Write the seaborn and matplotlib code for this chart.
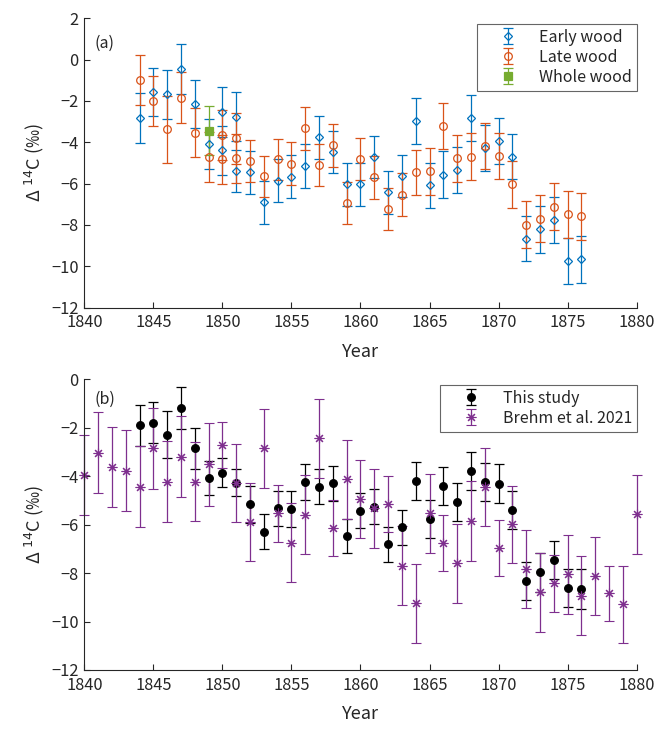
import matplotlib
matplotlib.use("Agg")
import matplotlib.pyplot as plt
import seaborn as sns
import numpy as np
import pandas as pd

# ── Colours (MATLAB default order) ──────────────────────────────────────────
BLUE   = "#0072BD"
ORANGE = "#D95319"
GREEN  = "#77AC30"
PURPLE = "#7E2F8E"
BLACK  = "#000000"

# ── Panel (a): early / late / whole wood ────────────────────────────────────
early_year = [1844, 1845, 1846, 1847, 1848, 1849, 1850, 1850, 1851, 1851,
              1852, 1853, 1854, 1855, 1856, 1857, 1858, 1859, 1860, 1861,
              1862, 1863, 1864, 1865, 1866, 1867, 1868, 1869, 1870, 1871,
              1872, 1873, 1874, 1875, 1876]
early_d14c = [-2.84, -1.57, -1.68, -0.45, -2.15, -4.10, -2.52, -4.38, -2.76, -5.40,
              -5.46, -6.91, -5.85, -5.67, -5.14, -3.76, -4.46, -6.03, -6.03, -4.73,
              -6.43, -5.64, -2.96, -6.09, -5.56, -5.35, -2.81, -4.27, -3.94, -4.70,
              -8.66, -8.22, -7.77, -9.74, -9.67]
early_err  = [1.21, 1.18, 1.20, 1.20, 1.18, 1.21, 1.20, 1.18, 1.20, 1.03,
              1.02, 1.03, 1.03, 1.05, 1.05, 1.03, 1.02, 1.04, 1.03, 1.02,
              1.02, 1.03, 1.12, 1.10, 1.12, 1.10, 1.12, 1.10, 1.12, 1.10,
              1.11, 1.12, 1.11, 1.13, 1.13]

late_year = [1844, 1845, 1846, 1847, 1848, 1849, 1850, 1850, 1851, 1851,
             1852, 1853, 1854, 1855, 1856, 1857, 1858, 1859, 1860, 1861,
             1862, 1863, 1864, 1865, 1866, 1867, 1868, 1869, 1870, 1871,
             1872, 1873, 1874, 1875, 1876]
late_d14c = [-0.99, -1.99, -3.38, -1.84, -3.54, -4.70, -3.65, -4.83, -3.81, -4.78,
             -4.91, -5.64, -4.83, -5.04, -3.33, -5.10, -4.15, -6.93, -4.80, -5.70,
             -7.22, -6.53, -5.46, -5.41, -3.20, -4.78, -4.70, -4.18, -4.65, -6.04,
             -7.98, -7.69, -7.12, -7.49, -7.58]
late_err  = [1.21, 1.20, 1.60, 1.22, 1.19, 1.20, 1.20, 1.20, 1.22, 1.20,
             1.02, 1.00, 1.01, 1.03, 1.05, 1.04, 1.03, 1.03, 1.03, 1.04,
             1.03, 1.03, 1.11, 1.12, 1.12, 1.13, 1.13, 1.13, 1.12, 1.13,
             1.12, 1.13, 1.13, 1.12, 1.13]

whole_year = [1849]
whole_d14c = [-3.44]
whole_err  = [1.19]

# ── Panel (b): this study vs Brehm et al. 2021 ──────────────────────────────
study_year = [1844, 1845, 1846, 1847, 1848, 1849, 1850, 1851, 1852, 1853,
              1854, 1855, 1856, 1857, 1858, 1859, 1860, 1861, 1862, 1863,
              1864, 1865, 1866, 1867, 1868, 1869, 1870, 1871, 1872, 1873,
              1874, 1875, 1876]
study_d14c = [-1.90, -1.79, -2.28, -1.17, -2.85, -4.09, -3.85, -4.27, -5.16, -6.29,
              -5.33, -5.35, -4.24, -4.43, -4.29, -6.47, -5.42, -5.26, -6.81, -6.11,
              -4.20, -5.77, -4.39, -5.05, -3.77, -4.24, -4.31, -5.39, -8.33, -7.97,
              -7.46, -8.61, -8.66]
study_err  = [0.86, 0.85, 0.97, 0.86, 0.84, 0.70, 0.60, 0.56, 0.76, 0.73,
              0.74, 0.73, 0.74, 0.73, 0.72, 0.72, 0.72, 0.73, 0.72, 0.72,
              0.78, 0.80, 0.79, 0.79, 0.79, 0.80, 0.80, 0.80, 0.79, 0.80,
              0.80, 0.80, 0.81]

brehm_year = list(range(1840, 1881))
brehm_d14c = [-3.95, -3.03, -3.61, -3.77, -4.43, -2.85, -4.22, -3.19, -4.22, -3.51,
              -2.71, -4.29, -5.90, -2.85, -5.53, -6.74, -5.60, -2.44, -6.15, -4.13,
              -4.94, -5.33, -5.16, -7.69, -9.25, -5.53, -6.77, -7.60, -5.85, -4.46,
              -6.98, -5.99, -7.84, -8.79, -8.42, -8.05, -8.93, -8.10, -8.83, -9.29,
              -5.57]
brehm_err  = [1.66, 1.68, 1.65, 1.67, 1.66, 1.66, 1.68, 1.66, 1.63, 1.71,
              0.96, 1.62, 1.61, 1.62, 1.17, 1.62, 1.63, 1.62, 1.15, 1.62,
              1.63, 1.63, 1.16, 1.62, 1.63, 1.62, 1.16, 1.62, 1.64, 1.61,
              1.16, 1.60, 1.62, 1.63, 1.17, 1.63, 1.64, 1.61, 1.13, 1.60,
              1.64]

df_early = pd.DataFrame({"year": early_year, "d14c": early_d14c, "err": early_err})
df_late  = pd.DataFrame({"year": late_year, "d14c": late_d14c, "err": late_err})
df_whole = pd.DataFrame({"year": whole_year, "d14c": whole_d14c, "err": whole_err})
df_study = pd.DataFrame({"year": study_year, "d14c": study_d14c, "err": study_err})
df_brehm = pd.DataFrame({"year": brehm_year, "d14c": brehm_d14c, "err": brehm_err})

# ── Style ───────────────────────────────────────────────────────────────────
sns.set_style("ticks")
plt.rcParams["font.family"] = ["Noto Sans CJK JP", "DejaVu Sans"]
plt.rcParams["mathtext.fontset"] = "dejavusans"
plt.rcParams["xtick.direction"] = "in"
plt.rcParams["ytick.direction"] = "in"

fig = plt.figure(figsize=(6.72, 7.34), dpi=100, facecolor="white")
ax1 = fig.add_axes([0.1254, 0.581, 0.822, 0.394])
ax2 = fig.add_axes([0.1254, 0.0872, 0.822, 0.396])

ERR_KW = dict(linestyle="none", capsize=3.6, elinewidth=0.9, capthick=0.9)


def draw(ax, df, color, marker, ms, label, filled=False, mew=0.9):
    cont = ax.errorbar(
        df["year"], df["d14c"], yerr=df["err"],
        marker=marker, markersize=ms, color=color, ecolor=color,
        markerfacecolor=color if filled else "none",
        markeredgecolor=color, markeredgewidth=mew,
        label=label, **ERR_KW,
    )
    for art in cont.lines[0:1] + tuple(cont.lines[1]) + tuple(cont.lines[2]):
        art.set_clip_on(False)


# ── (a) ─────────────────────────────────────────────────────────────────────
draw(ax1, df_early, BLUE, "D", 4.3, "Early wood")
draw(ax1, df_late, ORANGE, "o", 5.5, "Late wood")
draw(ax1, df_whole, GREEN, "s", 6, "Whole wood", filled=True)

# ── (b) ─────────────────────────────────────────────────────────────────────
draw(ax2, df_study, BLACK, "o", 5.5, "This study", filled=True)
draw(ax2, df_brehm, PURPLE, (8, 2, 0), 7, "Brehm et al. 2021", mew=0.8)

for ax, lim, tag, ty, axh in [(ax1, (-12, 2), "(a)", 0.915, 289.0),
                              (ax2, (-12, 0), "(b)", 0.932, 290.7)]:
    ax.set_xlim(1840, 1880)
    ax.set_ylim(*lim)
    ax.set_xticks(np.arange(1840, 1881, 5))
    ax.set_yticks(np.arange(lim[0], lim[1] + 1, 2))
    ax.set_yticklabels([f"{v}".replace("-", "\u2212") for v in range(lim[0], lim[1] + 1, 2)])
    ax.tick_params(axis="both", labelsize=11.8, length=4, width=0.8, color="#262626",
                   labelcolor="#262626")
    ax.tick_params(axis="x", pad=5)
    ax.tick_params(axis="y", pad=4)
    ax.set_xlabel("Year", fontsize=13, color="#262626", labelpad=8)
    ax.set_ylabel(r"Δ $^{14}$C (‰)", fontsize=13, color="#262626", labelpad=4)
    sns.despine(ax=ax)
    for sp in ["left", "bottom"]:
        ax.spines[sp].set_linewidth(0.8)
        ax.spines[sp].set_color("#262626")
    ax.text(0.0375, ty, tag, transform=ax.transAxes, fontsize=11.5,
            ha="center", va="center", color="#262626")
    leg = ax.legend(loc="upper right", bbox_to_anchor=(1.0, 1 - 5.5 / axh),
                    borderaxespad=0, fontsize=11.5, frameon=True, fancybox=False,
                    edgecolor="#404040", handletextpad=0.3, borderpad=0.3,
                    labelspacing=0.2, handlelength=3.3)
    leg.get_frame().set_linewidth(0.8)

fig.savefig("out.png", dpi=100, facecolor="white")
